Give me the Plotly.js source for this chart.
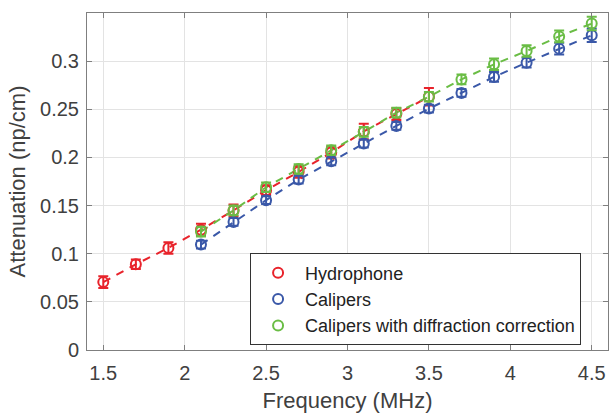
<!DOCTYPE html>
<html><head><meta charset="utf-8">
<script src="https://cdn.plot.ly/plotly-3.0.1.min.js"></script>
<style>html,body{margin:0;padding:0;background:#fff}#chart{width:609px;height:415px}</style>
</head><body><div id="chart"></div>
<script>
const hydroFreq = [1.5, 1.7, 1.9, 2.1, 2.3, 2.5, 2.7, 2.9, 3.1, 3.3, 3.5];
const hydroAtt  = [0.0705, 0.089, 0.106, 0.125, 0.145, 0.166, 0.185, 0.205, 0.227, 0.245, 0.263];
const hydroErr  = [0.006, 0.005, 0.006, 0.006, 0.006, 0.005, 0.006, 0.006, 0.008, 0.006, 0.009];

const calFreq = [2.1, 2.3, 2.5, 2.7, 2.9, 3.1, 3.3, 3.5, 3.7, 3.9, 4.1, 4.3, 4.5];
const calAtt  = [0.1095, 0.133, 0.1556, 0.177, 0.196, 0.2144, 0.2327, 0.2507, 0.267, 0.2836, 0.2984, 0.313, 0.3268];
const calErr  = [0.004, 0.004, 0.004, 0.004, 0.004, 0.004, 0.004, 0.004, 0.004, 0.005, 0.005, 0.006, 0.007];

const difFreq = [2.1, 2.3, 2.5, 2.7, 2.9, 3.1, 3.3, 3.5, 3.7, 3.9, 4.1, 4.3, 4.5];
const difAtt  = [0.123, 0.145, 0.169, 0.188, 0.2075, 0.2265, 0.2465, 0.263, 0.281, 0.2967, 0.3105, 0.3257, 0.339];
const difErr  = [0.005, 0.005, 0.005, 0.005, 0.005, 0.005, 0.005, 0.005, 0.005, 0.006, 0.006, 0.006, 0.007];

const xTicks = [1.5, 2, 2.5, 3, 3.5, 4, 4.5];
const xTickText = ['1.5', '2', '2.5', '3', '3.5', '4', '4.5'];
const yTicks = [0, 0.05, 0.1, 0.15, 0.2, 0.25, 0.3];
const yTickText = ['0', '0.05', '0.1', '0.15', '0.2', '0.25', '0.3'];

const names = ['Hydrophone', 'Calipers', 'Calipers with diffraction correction'];
const colors = ['#e8232b', '#3a58a8', '#6abd45'];

const sets = [[hydroFreq, hydroAtt, hydroErr], [calFreq, calAtt, calErr], [difFreq, difAtt, difErr]];
const traces = [];
sets.forEach((s, i) => {
  traces.push({x: s[0], y: s[1], mode: 'lines', showlegend: false, hoverinfo: 'skip',
    line: {color: colors[i], width: 2, dash: '8px,7px'}});
});
sets.forEach((s, i) => {
  traces.push({x: s[0], y: s[1], mode: 'markers', name: names[i],
    marker: {symbol: 'circle-open', size: 10, color: colors[i], line: {width: 2, color: colors[i]}},
    error_y: {type: 'data', array: s[2], visible: true, color: colors[i], thickness: 2, width: 5}});
});

const FONT = 'Liberation Sans, Arial, Helvetica, sans-serif';
const tickFont = {family: FONT, size: 20, color: '#404040'};
const layout = {
  width: 609, height: 415,
  margin: {l: 87, r: 1, t: 13, b: 65},
  paper_bgcolor: '#fff', plot_bgcolor: '#fff',
  showlegend: true,
  legend: {x: 0.313, y: 0.15, xanchor: 'left', yanchor: 'middle', itemwidth: 44,
    bgcolor: '#fff', bordercolor: '#333', borderwidth: 1,
    font: {family: FONT, size: 18, color: '#222'}},
  xaxis: {range: [1.4, 4.6], tickvals: xTicks, ticktext: xTickText,
    ticks: 'inside', ticklen: 5, tickcolor: '#7f7f7f', showline: true, linecolor: '#7f7f7f', linewidth: 1,
    mirror: 'ticks', showgrid: true, gridcolor: '#e3e3e3', zeroline: false, tickfont: tickFont,
    ticklabelstandoff: 5,
    title: {text: 'Frequency (MHz)', font: {family: FONT, size: 22, color: '#404040'}, standoff: 9}},
  yaxis: {range: [0, 0.35], tickvals: yTicks, ticktext: yTickText,
    ticks: 'inside', ticklen: 5, tickcolor: '#7f7f7f', showline: true, linecolor: '#7f7f7f', linewidth: 1,
    mirror: 'ticks', showgrid: true, gridcolor: '#e3e3e3', zeroline: false, tickfont: tickFont,
    ticklabelstandoff: 3,
    title: {text: 'Attenuation (np/cm)', font: {family: FONT, size: 22, color: '#404040'}, standoff: 8}}
};
Plotly.newPlot('chart', traces, layout, {displayModeBar: false, staticPlot: true});
</script></body></html>
